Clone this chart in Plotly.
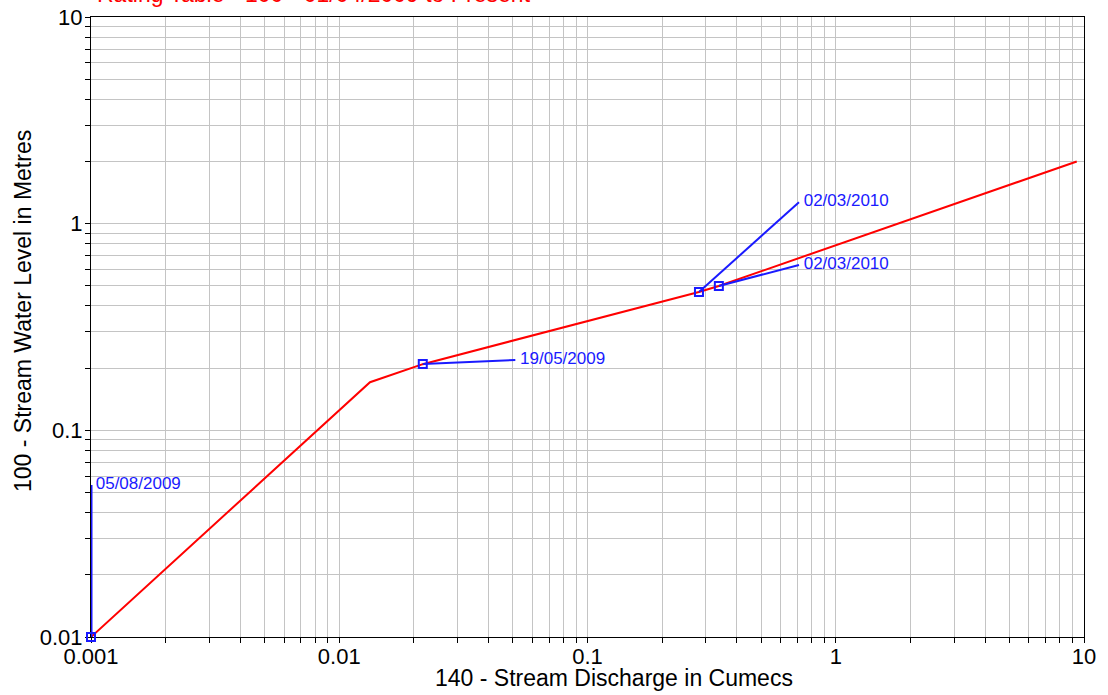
import plotly.graph_objects as go

# Rating curve (discharge in cumecs, water level in metres)
curve_q = [0.001, 0.0133, 0.0217, 0.281, 0.338, 9.35]
curve_h = [0.01, 0.171, 0.209, 0.467, 0.4995, 2.0]

# Gaugings (point on curve) and their label positions
gauge_dates = ["05/08/2009", "19/05/2009", "02/03/2010", "02/03/2010"]
gauge_q = [0.001, 0.0217, 0.2812, 0.3381]
gauge_h = [0.01, 0.2094, 0.467, 0.4995]
label_q = [0.001, 0.0512, 0.711, 0.711]
label_h = [0.0544, 0.219, 1.27, 0.631]

x_tickvals = [0.001, 0.01, 0.1, 1, 10]
x_ticktext = ["0.001", "0.01", "0.1", "1", "10"]
y_tickvals = [0.01, 0.1, 1, 10]
y_ticktext = ["0.01", "0.1", "1", "10"]

title_text = "Rating Table - 100 - 01/04/2009 to Present"
x_title = "140 - Stream Discharge in Cumecs"
y_title = "100 - Stream Water Level in Metres"

FONT = "Arial, Liberation Sans, sans-serif"
RED = "#ff0000"
BLUE = "#1a1aff"
GRID = "#c4c4c4"

fig = go.Figure()

fig.add_trace(go.Scatter(x=curve_q, y=curve_h, mode="lines",
                         line=dict(color=RED, width=2),
                         hoverinfo="skip", showlegend=False))

for i in range(len(gauge_dates)):
    fig.add_trace(go.Scatter(x=[gauge_q[i], label_q[i]], y=[gauge_h[i], label_h[i]],
                             mode="lines", line=dict(color=BLUE, width=2 if i else 3),
                             showlegend=False, hoverinfo="skip"))

fig.add_trace(go.Scatter(x=gauge_q, y=gauge_h, mode="markers",
                         marker=dict(symbol="square-open", size=8, color=BLUE,
                                     line=dict(width=2, color=BLUE)),
                         cliponaxis=False, showlegend=False))

fig.add_trace(go.Scatter(x=label_q, y=label_h, mode="text", text=gauge_dates,
                         texttemplate="\u00a0%{text}",
                         textposition="middle right",
                         textfont=dict(family=FONT, size=17, color=BLUE),
                         cliponaxis=False, showlegend=False))

axis_common = dict(
    type="log", showline=True, linecolor="black", linewidth=1, mirror=True,
    showgrid=True, gridcolor=GRID, gridwidth=1, zeroline=False,
    ticks="outside", ticklen=5, tickcolor="black",
    tickfont=dict(family=FONT, size=22, color="black"),
    layer="below traces", automargin=False,
    minor=dict(dtick="D1", showgrid=True, gridcolor=GRID, gridwidth=1,
               ticks="outside", ticklen=5, tickcolor="black"),
)

fig.update_xaxes(**axis_common, range=[-3, 1], tickvals=x_tickvals, ticktext=x_ticktext,
                 ticklabelstandoff=-5)
fig.update_yaxes(**axis_common, range=[-2, 1], tickvals=y_tickvals, ticktext=y_ticktext,
                 ticklabelstandoff=-2)

fig.update_layout(
    width=1108, height=695,
    margin=dict(l=91, r=24, t=17, b=58),
    paper_bgcolor="white", plot_bgcolor="white",
    font=dict(family=FONT),
    annotations=[
        dict(text=title_text, xref="paper", yref="paper", x=(95 - 91) / (1084 - 91),
             y=1, yshift=8, xanchor="left", yanchor="bottom", showarrow=False,
             font=dict(family=FONT, size=23, color=RED)),
        dict(text=x_title, xref="paper", yref="paper", x=(614 - 91) / (1084 - 91),
             y=0, yshift=-41, xanchor="center", yanchor="middle", showarrow=False,
             font=dict(family=FONT, size=23, color="black")),
        dict(text=y_title, xref="paper", yref="paper", x=0, xshift=-68,
             y=(637 - 311) / (637 - 17), xanchor="center", yanchor="middle",
             textangle=-90, showarrow=False,
             font=dict(family=FONT, size=23, color="black")),
    ],
)

fig.write_html("out.html", config={"displayModeBar": False},
               post_script="document.body.style.margin='0';")
